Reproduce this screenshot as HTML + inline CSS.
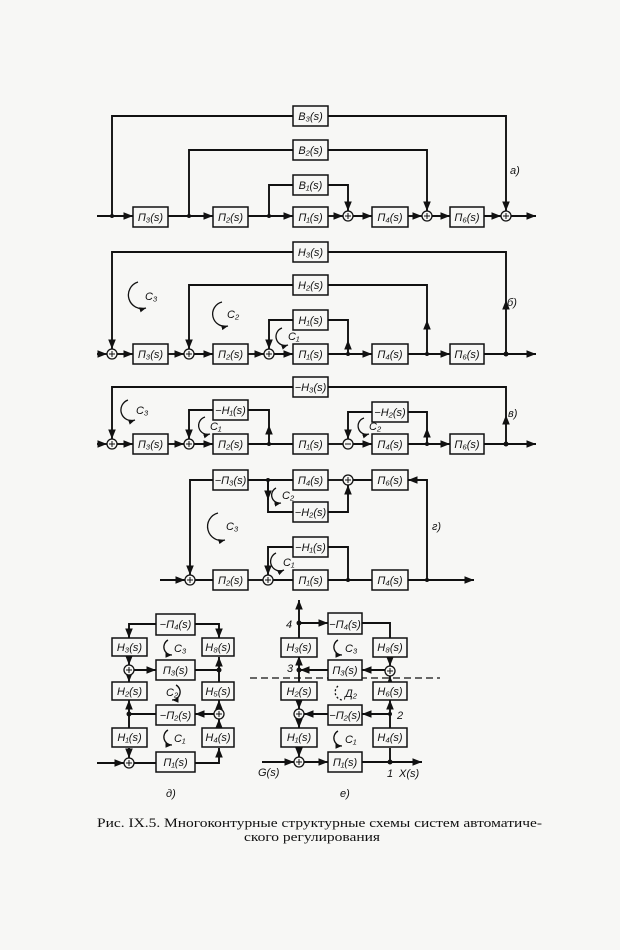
<!DOCTYPE html>
<html><head><meta charset="utf-8"><style>
body{margin:0;background:#f7f7f5}
svg{display:block}
text{font-family:"Liberation Sans","DejaVu Sans",sans-serif;font-style:italic;font-size:11px;fill:#111}
.c{font-family:"Liberation Serif","DejaVu Serif",serif;font-style:normal;font-size:13px}
</style></head><body>
<svg width="620" height="950" viewBox="0 0 620 950" xmlns="http://www.w3.org/2000/svg">
<defs>
<marker id="a" viewBox="0 0 10 10" refX="10" refY="5" markerWidth="5" markerHeight="5" orient="auto"><path d="M0,1 L10,5 L0,9 z" fill="#111"/></marker>
</defs>
<g fill="none" stroke="#111" stroke-width="1.9">
<!-- a) -->
<path d="M97 216H133" marker-end="url(#a)"/><path d="M168 216H213" marker-end="url(#a)"/><path d="M248 216H293" marker-end="url(#a)"/>
<path d="M328 216H343" marker-end="url(#a)"/><path d="M353 216H372" marker-end="url(#a)"/><path d="M408 216H422" marker-end="url(#a)"/>
<path d="M432 216H450" marker-end="url(#a)"/><path d="M484 216H501" marker-end="url(#a)"/><path d="M511 216H536" marker-end="url(#a)"/>
<path d="M112 216V116H293M328 116H506V211" marker-end="url(#a)"/>
<path d="M189 216V150H293M328 150H427V211" marker-end="url(#a)"/>
<path d="M269 216V185H293M328 185H348V211" marker-end="url(#a)"/>
<!-- b) -->
<path d="M97 354H107" marker-end="url(#a)"/><path d="M117 354H133" marker-end="url(#a)"/><path d="M168 354H184" marker-end="url(#a)"/>
<path d="M194 354H213" marker-end="url(#a)"/><path d="M248 354H264" marker-end="url(#a)"/><path d="M274 354H293" marker-end="url(#a)"/>
<path d="M328 354H372" marker-end="url(#a)"/><path d="M408 354H450" marker-end="url(#a)"/><path d="M484 354H536" marker-end="url(#a)"/>
<path d="M506 354V300" marker-end="url(#a)"/><path d="M506 300V252H328M293 252H112V349" marker-end="url(#a)"/>
<path d="M427 354V320" marker-end="url(#a)"/><path d="M427 320V285H328M293 285H189V349" marker-end="url(#a)"/>
<path d="M348 354V340" marker-end="url(#a)"/><path d="M348 340V320H328M293 320H269V349" marker-end="url(#a)"/>
<!-- v) -->
<path d="M97 444H107" marker-end="url(#a)"/><path d="M117 444H133" marker-end="url(#a)"/><path d="M168 444H184" marker-end="url(#a)"/>
<path d="M194 444H213" marker-end="url(#a)"/><path d="M248 444H293"/><path d="M328 444H343"/>
<path d="M353 444H372" marker-end="url(#a)"/><path d="M408 444H450" marker-end="url(#a)"/><path d="M484 444H536" marker-end="url(#a)"/>
<path d="M506 444V415" marker-end="url(#a)"/><path d="M506 415V387H328M293 387H112V439" marker-end="url(#a)"/>
<path d="M269 444V425" marker-end="url(#a)"/><path d="M269 425V410H248M213 410H189V439" marker-end="url(#a)"/>
<path d="M427 444V428" marker-end="url(#a)"/><path d="M427 428V412H408M372 412H348V439" marker-end="url(#a)"/>
<!-- g) -->
<path d="M160 580H185" marker-end="url(#a)"/><path d="M195 580H213"/><path d="M248 580H263"/>
<path d="M273 580H293"/><path d="M328 580H372"/><path d="M408 580H474" marker-end="url(#a)"/>
<path d="M427 580V480H408" marker-end="url(#a)"/><path d="M372 480H353"/><path d="M343 480H328"/>
<path d="M293 480H248M213 480H190V575" marker-end="url(#a)"/>
<path d="M268 480V512H293"/><path d="M268 480V500" marker-end="url(#a)"/><path d="M328 512H348V485" marker-end="url(#a)"/>
<path d="M348 580V547H328M293 547H268V575" marker-end="url(#a)"/>
<!-- d) -->
<path d="M97 763H124" marker-end="url(#a)"/><path d="M134 763H156"/><path d="M195 763H219V748" marker-end="url(#a)"/>
<path d="M219 728V719" marker-end="url(#a)"/><path d="M219 709V700" marker-end="url(#a)"/><path d="M219 682V657" marker-end="url(#a)"/>
<path d="M195 624H219V638" marker-end="url(#a)"/><path d="M156 624H129V638" marker-end="url(#a)"/>
<path d="M129 655V665" marker-end="url(#a)"/><path d="M129 675V682" marker-end="url(#a)"/><path d="M134 670H156" marker-end="url(#a)"/>
<path d="M195 670H219"/><path d="M214 714H195" marker-end="url(#a)"/><path d="M156 714H129"/>
<path d="M129 728V700" marker-end="url(#a)"/><path d="M129 748V758" marker-end="url(#a)"/>
<!-- e) -->
<path d="M262 762H294" marker-end="url(#a)"/><path d="M304 762H328" marker-end="url(#a)"/><path d="M362 762H422" marker-end="url(#a)"/>
<path d="M390 762V748"/><path d="M390 728V700" marker-end="url(#a)"/><path d="M390 682V676" marker-end="url(#a)"/>
<path d="M390 658V666" marker-end="url(#a)"/><path d="M390 639V623H362"/>
<path d="M299 623H328" marker-end="url(#a)"/><path d="M299 630V600" marker-end="url(#a)"/>
<path d="M385 670H362" marker-end="url(#a)"/><path d="M328 670H300" marker-end="url(#a)"/>
<path d="M299 670V656" marker-end="url(#a)"/><path d="M299 638V623"/><path d="M299 670V709" marker-end="url(#a)"/>
<path d="M390 714H362" marker-end="url(#a)"/><path d="M328 714H304" marker-end="url(#a)"/>
<path d="M299 719V728" marker-end="url(#a)"/><path d="M299 746V757" marker-end="url(#a)"/>
</g>
<path d="M250 678H440" stroke="#111" stroke-width="1.3" stroke-dasharray="7,4" fill="none"/>
<!-- boxes -->
<g fill="#f7f7f5" stroke="#111" stroke-width="1.5">
<rect x="133" y="207" width="35" height="20"/><rect x="213" y="207" width="35" height="20"/><rect x="293" y="207" width="35" height="20"/><rect x="372" y="207" width="36" height="20"/><rect x="450" y="207" width="34" height="20"/>
<rect x="293" y="106" width="35" height="20"/><rect x="293" y="140" width="35" height="20"/><rect x="293" y="175" width="35" height="20"/>
<rect x="133" y="344" width="35" height="20"/><rect x="213" y="344" width="35" height="20"/><rect x="293" y="344" width="35" height="20"/><rect x="372" y="344" width="36" height="20"/><rect x="450" y="344" width="34" height="20"/>
<rect x="293" y="242" width="35" height="20"/><rect x="293" y="275" width="35" height="20"/><rect x="293" y="310" width="35" height="20"/>
<rect x="133" y="434" width="35" height="20"/><rect x="213" y="434" width="35" height="20"/><rect x="293" y="434" width="35" height="20"/><rect x="372" y="434" width="36" height="20"/><rect x="450" y="434" width="34" height="20"/>
<rect x="293" y="377" width="35" height="20"/><rect x="213" y="400" width="35" height="20"/><rect x="372" y="402" width="36" height="20"/>
<rect x="213" y="570" width="35" height="20"/><rect x="293" y="570" width="35" height="20"/><rect x="372" y="570" width="36" height="20"/>
<rect x="213" y="470" width="35" height="20"/><rect x="293" y="470" width="35" height="20"/><rect x="372" y="470" width="36" height="20"/>
<rect x="293" y="502" width="35" height="20"/><rect x="293" y="537" width="35" height="20"/>
<rect x="156" y="614" width="39" height="21"/><rect x="156" y="660" width="39" height="20"/><rect x="156" y="705" width="39" height="20"/><rect x="156" y="752" width="39" height="20"/>
<rect x="112" y="638" width="35" height="18"/><rect x="112" y="682" width="35" height="18"/><rect x="112" y="728" width="35" height="19"/>
<rect x="202" y="638" width="32" height="18"/><rect x="202" y="682" width="32" height="18"/><rect x="202" y="728" width="32" height="19"/>
<rect x="328" y="613" width="34" height="21"/><rect x="328" y="660" width="34" height="20"/><rect x="328" y="705" width="34" height="20"/><rect x="328" y="752" width="34" height="20"/>
<rect x="281" y="638" width="36" height="19"/><rect x="281" y="682" width="36" height="18"/><rect x="281" y="728" width="36" height="19"/>
<rect x="373" y="638" width="34" height="19"/><rect x="373" y="682" width="34" height="18"/><rect x="373" y="728" width="34" height="19"/>
</g>
<!-- sums -->
<g fill="#f7f7f5" stroke="#111" stroke-width="1.3">
<circle cx="348" cy="216" r="5"/><circle cx="427" cy="216" r="5"/><circle cx="506" cy="216" r="5"/>
<circle cx="112" cy="354" r="5"/><circle cx="189" cy="354" r="5"/><circle cx="269" cy="354" r="5"/>
<circle cx="112" cy="444" r="5"/><circle cx="189" cy="444" r="5"/><circle cx="348" cy="444" r="5"/>
<circle cx="190" cy="580" r="5"/><circle cx="268" cy="580" r="5"/><circle cx="348" cy="480" r="5"/>
<circle cx="129" cy="670" r="5"/><circle cx="219" cy="714" r="5"/><circle cx="129" cy="763" r="5"/>
<circle cx="390" cy="671" r="5"/><circle cx="299" cy="714" r="5"/><circle cx="299" cy="762" r="5"/>
</g>
<g stroke="#111" stroke-width="1">
<path d="M345 216h6M348 213v6M424 216h6M427 213v6M503 216h6M506 213v6M109 354h6M112 351v6M186 354h6M189 351v6M266 354h6M269 351v6M109 444h6M112 441v6M186 444h6M189 441v6M345 444h6M187 580h6M190 577v6M265 580h6M268 577v6M345 480h6M348 477v6M126 670h6M129 667v6M216 714h6M219 711v6M126 763h6M129 760v6M387 671h6M390 668v6M296 714h6M299 711v6M296 762h6M299 759v6"/>
</g>
<g fill="#111">
<circle cx="112" cy="216" r="2"/><circle cx="189" cy="216" r="2"/><circle cx="269" cy="216" r="2"/>
<circle cx="348" cy="354" r="2"/><circle cx="427" cy="354" r="2"/><circle cx="506" cy="354" r="2.5"/>
<circle cx="269" cy="444" r="2"/><circle cx="427" cy="444" r="2"/><circle cx="506" cy="444" r="2.5"/>
<circle cx="348" cy="580" r="2"/><circle cx="427" cy="580" r="2"/><circle cx="268" cy="480" r="2"/>
<circle cx="219" cy="670" r="2.5"/><circle cx="129" cy="714" r="2.5"/>
<circle cx="299" cy="623" r="2.5"/><circle cx="299" cy="670" r="2.5"/><circle cx="390" cy="714" r="2"/><circle cx="390" cy="762" r="2.5"/>
</g>
<!-- box labels -->
<g text-anchor="middle">
<text x="150.5" y="221">П₃(s)</text><text x="230.5" y="221">П₂(s)</text><text x="310.5" y="221">П₁(s)</text><text x="390" y="221">П₄(s)</text><text x="467" y="221">П₆(s)</text>
<text x="310.5" y="120">B₃(s)</text><text x="310.5" y="154">B₂(s)</text><text x="310.5" y="189">B₁(s)</text>
<text x="150.5" y="358">П₃(s)</text><text x="230.5" y="358">П₂(s)</text><text x="310.5" y="358">П₁(s)</text><text x="390" y="358">П₄(s)</text><text x="467" y="358">П₆(s)</text>
<text x="310.5" y="256">H₃(s)</text><text x="310.5" y="289">H₂(s)</text><text x="310.5" y="324">H₁(s)</text>
<text x="150.5" y="448">П₃(s)</text><text x="230.5" y="448">П₂(s)</text><text x="310.5" y="448">П₁(s)</text><text x="390" y="448">П₄(s)</text><text x="467" y="448">П₆(s)</text>
<text x="310.5" y="391">−H₃(s)</text><text x="230.5" y="414">−H₁(s)</text><text x="390" y="416">−H₂(s)</text>
<text x="230.5" y="584">П₂(s)</text><text x="310.5" y="584">П₁(s)</text><text x="390" y="584">П₄(s)</text>
<text x="230.5" y="484">−П₃(s)</text><text x="310.5" y="484">П₄(s)</text><text x="390" y="484">П₆(s)</text>
<text x="310.5" y="516">−H₂(s)</text><text x="310.5" y="551">−H₁(s)</text>
<text x="175.5" y="628">−П₄(s)</text><text x="175.5" y="674">П₃(s)</text><text x="175.5" y="719">−П₂(s)</text><text x="175.5" y="766">П₁(s)</text>
<text x="129.5" y="651">H₃(s)</text><text x="129.5" y="695">H₂(s)</text><text x="129.5" y="741">H₁(s)</text>
<text x="218" y="651">H₈(s)</text><text x="218" y="695">H₅(s)</text><text x="218" y="741">H₄(s)</text>
<text x="345" y="628">−П₄(s)</text><text x="345" y="674">П₃(s)</text><text x="345" y="719">−П₂(s)</text><text x="345" y="766">П₁(s)</text>
<text x="299" y="651">H₃(s)</text><text x="299" y="695">H₂(s)</text><text x="299" y="741">H₁(s)</text>
<text x="390" y="651">H₈(s)</text><text x="390" y="695">H₆(s)</text><text x="390" y="741">H₄(s)</text>
</g>
<!-- loop labels -->
<g fill="none" stroke="#111" stroke-width="1.3">
<path d="M138 282 A12 12 0 0 0 146 308" marker-end="url(#a)"/>
<path d="M222 302 A12 12 0 0 0 228 326" marker-end="url(#a)"/>
<path d="M282 328 A8 8 0 0 0 288 345" marker-end="url(#a)"/>
<path d="M128 400 A10 10 0 0 0 135 420" marker-end="url(#a)"/>
<path d="M205 417 A8 8 0 0 0 210 434" marker-end="url(#a)"/>
<path d="M364 418 A8 8 0 0 0 369 434" marker-end="url(#a)"/>
<path d="M276 488 A8 8 0 0 0 281 503" marker-end="url(#a)"/>
<path d="M218 513 A12 12 0 0 0 225 540" marker-end="url(#a)"/>
<path d="M276 553 A8 8 0 0 0 284 570" marker-end="url(#a)"/>
<path d="M168 640 A8 8 0 0 0 172 655" marker-end="url(#a)"/>
<path d="M176 685 A8 8 0 0 1 172 700" marker-end="url(#a)"/>
<path d="M168 730 A8 8 0 0 0 172 745" marker-end="url(#a)"/>
<path d="M338 640 A8 8 0 0 0 342 655" marker-end="url(#a)"/>
<path d="M338 686 A8 8 0 0 0 342 700" stroke-dasharray="2,2"/>
<path d="M338 731 A8 8 0 0 0 342 746" marker-end="url(#a)"/>
</g>
<text x="145" y="300">C₃</text><text x="227" y="318">C₂</text><text x="288" y="340">C₁</text>
<text x="136" y="414">C₃</text><text x="210" y="430">C₁</text><text x="369" y="430">C₂</text>
<text x="282" y="499">C₂</text><text x="226" y="530">C₃</text><text x="283" y="566">C₁</text>
<text x="174" y="652">C₃</text><text x="166" y="696">C₂</text><text x="174" y="742">C₁</text>
<text x="345" y="652">C₃</text><text x="345" y="697">Д₂</text><text x="345" y="743">C₁</text>
<text x="510" y="174">a)</text><text x="507" y="306">б)</text><text x="508" y="417">в)</text><text x="432" y="530">г)</text>
<text x="166" y="797">д)</text><text x="340" y="797">е)</text>
<text x="286" y="628">4</text><text x="287" y="672">3</text><text x="397" y="719">2</text><text x="387" y="777">1</text><text x="399" y="777">X(s)</text><text x="258" y="776">G(s)</text>
<text class="c" x="97" y="827" textLength="445" lengthAdjust="spacingAndGlyphs">Рис. IX.5. Многоконтурные структурные схемы систем автоматиче-</text>
<text class="c" x="244" y="841" textLength="136" lengthAdjust="spacingAndGlyphs">ского регулирования</text>
</svg>
</body></html>
